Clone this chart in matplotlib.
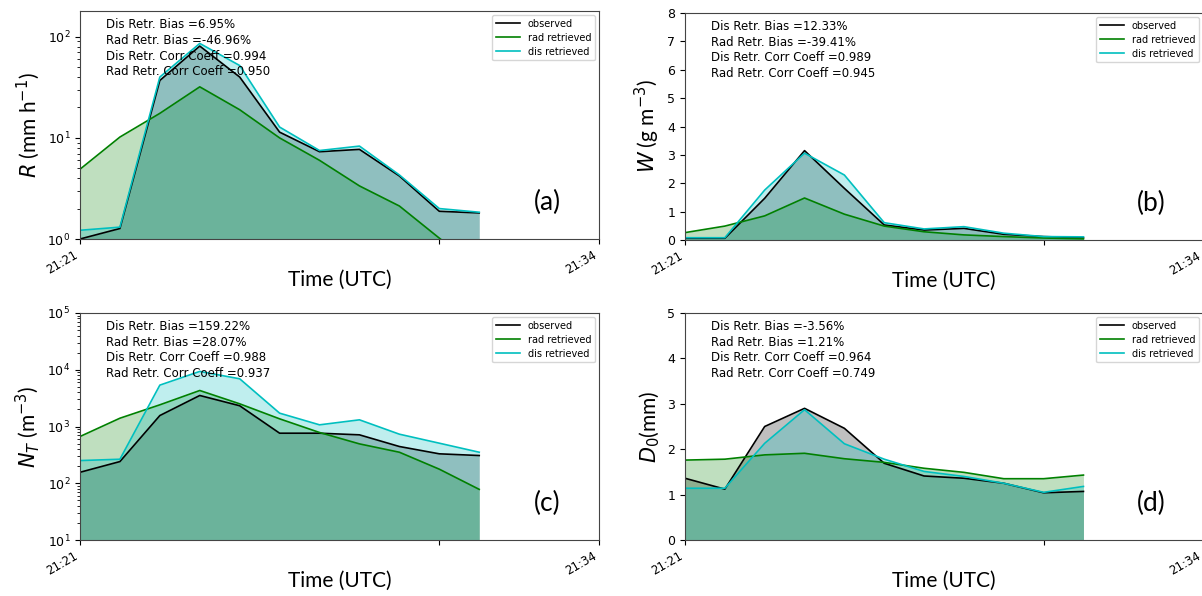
import matplotlib
matplotlib.use("Agg")
import matplotlib.pyplot as plt
import numpy as np

# time in minutes after 21:21
minutes = [0, 1, 2, 3, 4, 5, 6, 7, 8, 9, 10]
tick_pos = [0, 9, 13]
tick_labels = ["21:21", "", "21:34"]

# (a) rain rate
R_obs = [1.0, 1.27, 37, 81, 40, 11.4, 7.3, 7.7, 4.2, 1.88, 1.81]
R_rad = [4.9, 10.2, 17.5, 32, 19, 10.0, 6.0, 3.35, 2.12, 1.02, 0.5]
R_dis = [1.22, 1.31, 40, 86, 52, 12.8, 7.5, 8.3, 4.3, 2.0, 1.84]

# (b) liquid water content
W_obs = [0.06, 0.06, 1.47, 3.15, 1.82, 0.53, 0.35, 0.41, 0.20, 0.12, 0.08]
W_rad = [0.26, 0.49, 0.85, 1.48, 0.91, 0.49, 0.29, 0.18, 0.12, 0.07, 0.04]
W_dis = [0.08, 0.08, 1.76, 3.06, 2.29, 0.61, 0.39, 0.47, 0.24, 0.12, 0.11]

# (c) total number concentration
N_obs = [156, 241, 1560, 3520, 2320, 762, 762, 713, 444, 330, 308]
N_rad = [666, 1400, 2410, 4310, 2510, 1365, 784, 494, 352, 177, 78]
N_dis = [251, 265, 5360, 9340, 6930, 1718, 1070, 1311, 732, 508, 352]

# (d) median volume diameter
D_obs = [1.36, 1.12, 2.50, 2.90, 2.46, 1.69, 1.41, 1.36, 1.25, 1.04, 1.07]
D_rad = [1.76, 1.78, 1.875, 1.91, 1.79, 1.71, 1.58, 1.49, 1.35, 1.35, 1.43]
D_dis = [1.14, 1.14, 2.13, 2.87, 2.12, 1.78, 1.51, 1.40, 1.25, 1.05, 1.18]

stats_a = ["Dis Retr. Bias =6.95%", "Rad Retr. Bias =-46.96%",
           "Dis Retr. Corr Coeff =0.994", "Rad Retr. Corr Coeff =0.950"]
stats_b = ["Dis Retr. Bias =12.33%", "Rad Retr. Bias =-39.41%",
           "Dis Retr. Corr Coeff =0.989", "Rad Retr. Corr Coeff =0.945"]
stats_c = ["Dis Retr. Bias =159.22%", "Rad Retr. Bias =28.07%",
           "Dis Retr. Corr Coeff =0.988", "Rad Retr. Corr Coeff =0.937"]
stats_d = ["Dis Retr. Bias =-3.56%", "Rad Retr. Bias =1.21%",
           "Dis Retr. Corr Coeff =0.964", "Rad Retr. Corr Coeff =0.749"]

series_labels = ["observed", "rad retrieved", "dis retrieved"]
series_colors = ["k", "g", "c"]

fig = plt.figure(figsize=(12.02, 5.96), dpi=100)

W_FIG, H_FIG = 1202, 596
def rect(l, r, t, b):
    return [l / W_FIG, 1 - b / H_FIG, (r - l) / W_FIG, (b - t) / H_FIG]

panels = [
    dict(pos=rect(80, 599, 11, 239), data=(R_obs, R_rad, R_dis), log=True,
         ylim=(1, 180), ylabel="$R$ (mm h$^{-1}$)", stats=stats_a, tag="(a)"),
    dict(pos=rect(685, 1203, 13, 240), data=(W_obs, W_rad, W_dis), log=False,
         ylim=(0, 8), ylabel="$W$ (g m$^{-3}$)", stats=stats_b, tag="(b)"),
    dict(pos=rect(80, 599, 313, 540), data=(N_obs, N_rad, N_dis), log=True,
         ylim=(10, 1e5), ylabel="$N_T$ (m$^{-3}$)", stats=stats_c, tag="(c)"),
    dict(pos=rect(685, 1203, 313, 540), data=(D_obs, D_rad, D_dis), log=False,
         ylim=(0, 5), ylabel="$D_0$(mm)", stats=stats_d, tag="(d)"),
]

for p in panels:
    ax = fig.add_axes(p["pos"])
    if p["log"]:
        ax.set_yscale("log")
    base = p["ylim"][0] * 1e-3 if p["log"] else 0
    for vals, col in zip(p["data"], series_colors):
        ax.fill_between(minutes, vals, base, color=col, alpha=0.25, lw=0)
    for vals, col, lab in zip(p["data"], series_colors, series_labels):
        ax.plot(minutes, vals, color=col, lw=1.2, label=lab)
    ax.set_xlim(0, 13)
    ax.set_ylim(*p["ylim"])
    if not p["log"]:
        ax.set_yticks(np.arange(p["ylim"][0], p["ylim"][1] + 1, 1))
    ax.set_xticks(tick_pos)
    ax.set_xticklabels(tick_labels, rotation=30, ha="right", fontsize=8.5)
    ax.tick_params(axis="y", labelsize=9)
    ax.set_xlabel("Time (UTC)", fontsize=15, family="Lato")
    ax.xaxis.set_label_coords(0.5, -0.135)
    ax.set_ylabel(p["ylabel"], fontsize=15, family="Lato")
    for i, s in enumerate(p["stats"]):
        ax.text(0.05, 0.94 - i * 0.069, s, transform=ax.transAxes,
                fontsize=8.5, va="center", ha="left")
    ax.text(0.90, 0.16, p["tag"], transform=ax.transAxes, fontsize=19,
            family="Lato", ha="center", va="center")
    ax.legend(loc="upper right", fontsize=7, handlelength=2.5,
              borderaxespad=0.4, labelspacing=0.4)
    for spine in ax.spines.values():
        spine.set_color("#444444")

fig.savefig("out.png", dpi=100)
